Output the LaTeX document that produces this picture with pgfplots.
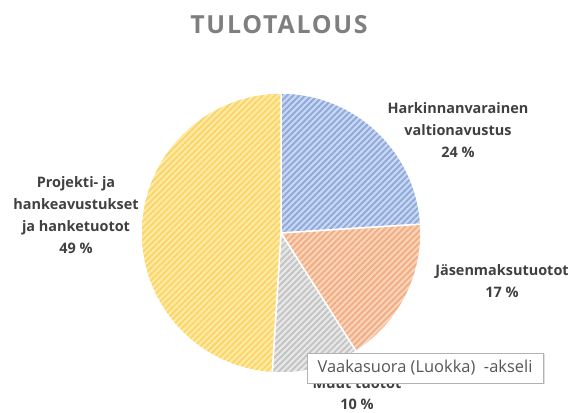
\documentclass[border=0pt]{standalone}
\usepackage{pgfplots}
\pgfplotsset{compat=1.18}
\usetikzlibrary{patterns.meta,shadows}
\usepackage{fontspec}
\setmainfont{Open Sans}
\definecolor{blueBg}{HTML}{C9D7F1}
\definecolor{blueFg}{HTML}{8EA9DB}
\definecolor{orBg}{HTML}{F9D3BA}
\definecolor{orFg}{HTML}{F2AE82}
\definecolor{grBg}{HTML}{E8E8E8}
\definecolor{grFg}{HTML}{C4C4C4}
\definecolor{yeBg}{HTML}{FFEAA6}
\definecolor{yeFg}{HTML}{FBD567}
\definecolor{lbl}{HTML}{404040}
\definecolor{ttl}{HTML}{7F7F7F}
\definecolor{tip}{HTML}{575757}
\begin{document}
\begin{tikzpicture}
\begin{axis}[width=576bp,height=410bp,scale only axis,
  xmin=0,xmax=576,ymin=0,ymax=410,y dir=reverse,hide axis,clip=false]
\path (axis cs:0,0) rectangle (axis cs:576,410);
\pgfplotsextra{
  \xdef\curang{90}
  \foreach \v/\bgc/\fgc in {24/blueBg/blueFg,17/orBg/orFg,10/grBg/grFg,49/yeBg/yeFg}{
    \pgfmathsetmacro\endang{\curang-3.6*\v}
    \path[fill=\bgc,
      postaction={pattern={Lines[angle=45,distance=4.3bp,line width=1.9bp]},pattern color=\fgc},
      postaction={draw=white,line width=1.5bp,line join=round}]
      (axis cs:281,233) -- ++(\curang:140bp) arc[start angle=\curang,end angle=\endang,radius=140bp] -- cycle;
    \xdef\curang{\endang}
  }
}
\node[font=\bfseries\fontsize{25}{28}\selectfont\addfontfeatures{LetterSpace=7},text=ttl] at (axis cs:279,25) {TULOTALOUS};
\node[align=center,font=\bfseries\fontsize{14.5}{22}\selectfont,text=lbl] at (axis cs:458,130) {Harkinnanvarainen\\valtionavustus\\24 \%};
\node[align=center,font=\bfseries\fontsize{14.5}{22}\selectfont,text=lbl] at (axis cs:502,281) {Jäsenmaksutuotot\\17 \%};
\node[align=center,font=\bfseries\fontsize{14.5}{22}\selectfont,text=lbl] at (axis cs:76,215) {Projekti- ja\\hankeavustukset\\ja hanketuotot\\49 \%};
\node[align=center,font=\bfseries\fontsize{14.5}{21}\selectfont,text=lbl] at (axis cs:357,394) {Muut tuotot\\10 \%};
\node[draw=black!30,fill=white,drop shadow={shadow xshift=1.5bp,shadow yshift=-1.5bp,opacity=0.25},
  font=\fontsize{16.5}{18}\selectfont,text=tip,inner sep=0pt,minimum width=236bp,minimum height=30bp]
  at (axis cs:425,368) {Vaakasuora (Luokka)\ \ -akseli};
\end{axis}
\end{tikzpicture}
\end{document}
